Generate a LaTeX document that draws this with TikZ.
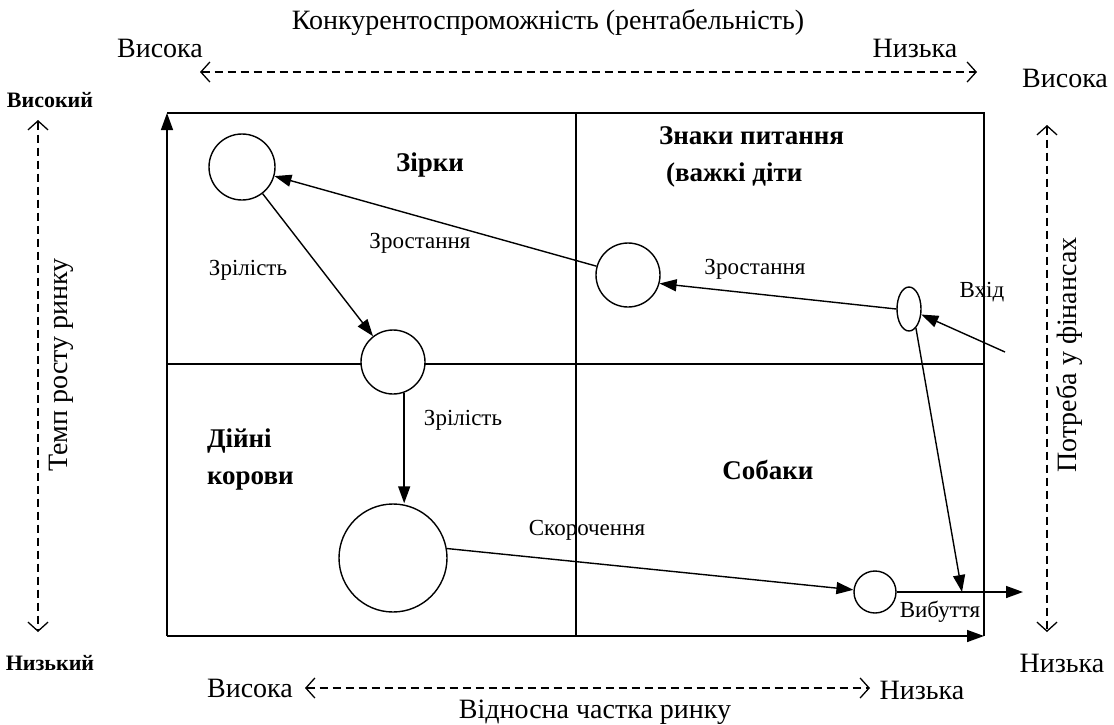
\documentclass[tikz,border=0pt]{standalone}
\usepackage{fontspec}
\setmainfont{Liberation Serif}[BoldFont={Liberation Serif Bold}]
\usetikzlibrary{arrows.meta, shapes.geometric}

\begin{document}
\begin{tikzpicture}[x=1pt, y=-1pt, line width=1.4pt,
  >={Triangle[length=17pt, width=12pt]},
  ball/.style={circle, draw, fill=white, inner sep=0pt},
  lbl/.style={font=\fontsize{28}{30}\selectfont},
  side/.style={font=\fontsize{22}{26}\selectfont\bfseries},
  tag/.style={font=\fontsize{23}{26}\selectfont},
  quad/.style={font=\fontsize{27}{37}\selectfont\bfseries, align=left},
  guide/.style={line width=1.3pt, dash pattern=on 8pt off 5pt,
    {Straight Barb[length=9pt, width=20pt]}-{Straight Barb[length=9pt, width=20pt]}}]
  \useasboundingbox (0,0) rectangle (1114,724);

  \coordinate (TL) at (167,113);
  \coordinate (TR) at (984,113);
  \coordinate (BL) at (167,636);
  \coordinate (BR) at (984,636);
  \coordinate (MT) at (576,113);
  \coordinate (MB) at (576,636);
  \coordinate (ML) at (167,364);
  \coordinate (MR) at (984,364);

  \draw[->] (BL) -- (TL);
  \draw[->] (BL) -- (BR);
  \draw (TL) -- (TR) -- (BR);
  \draw (MT) -- (MB);
  \draw (ML) -- (MR);

  \node[ball, minimum size=66pt] (star) at (242,167) {};
  \node[ball, minimum size=64pt] (ques) at (628,275) {};
  \node[ball, minimum size=64pt] (mid) at (393,362) {};
  \node[ball, minimum size=108pt] (cow) at (393,558) {};
  \node[ball, minimum size=42pt] (dog) at (875,592) {};
  \node[ellipse, draw, fill=white, inner sep=0pt, minimum width=24pt, minimum height=44pt] (ell) at (909,309) {};
  \coordinate (entry) at (1005,352);
  \coordinate (exit) at (1023,592);
  \coordinate (merge) at (962,592);

  \draw[->] (ques) -- (star);
  \draw[->] (ell.west) -- (ques.-15);
  \draw[->] (star) -- (mid);
  \draw[->] (mid.-70) -- (mid.-70 |- cow.north);
  \draw[->] (cow.10) -- (dog);
  \draw[->] (dog) -- (exit);
  \draw[->] (ell.-70) -- (merge);
  \draw[->] (entry) -- (ell);

  \node[quad] (stars) at (430,165) {Зірки};
  \node[quad, anchor=west] (qmarks) at (655,157) {Знаки питання\\\hspace*{7pt}(важкі діти};
  \node[quad, anchor=west] (cows) at (203,459) {Дійні\\корови};
  \node[quad] (dogs) at (768,470) {Собаки};

  \node[tag] (grow1) at (420,243) {Зростання};
  \node[tag] (grow2) at (755,269) {Зростання};
  \node[tag] (mat1) at (248,270) {Зрілість};
  \node[tag] (mat2) at (463,420) {Зрілість};
  \node[tag] (cut) at (587,530) {Скорочення};
  \node[tag] (entrytxt) at (982,292) {Вхід};
  \node[tag] (exittxt) at (940,612) {Вибуття};

  \node[lbl] (comp) at (548,22) {Конкурентоспроможність (рентабельність)};
  \node[lbl] (thigh) at (160,48) {Висока};
  \node[lbl] (tlow) at (915,48) {Низька};
  \coordinate (GT1) at (200,72);
  \coordinate (GT2) at (977,72);
  \draw[guide] (GT1) -- (GT2);

  \node[lbl] (rhigh) at (1065,78) {Висока};
  \node[lbl] (rlow) at (1062,663) {Низька};
  \node[lbl, rotate=90] (need) at (1069,355) {Потреба у фінансах};
  \coordinate (GR1) at (1047,125);
  \coordinate (GR2) at (1047,632);
  \draw[guide] (GR1) -- (GR2);

  \node[side] (lhigh) at (50,100) {Високий};
  \node[side] (llow) at (50,663) {Низький};
  \node[lbl, rotate=90] (rate) at (61,365) {Темп росту ринку};
  \coordinate (GL1) at (38,120);
  \coordinate (GL2) at (38,632);
  \draw[guide] (GL1) -- (GL2);

  \node[lbl] (bhigh) at (250,688) {Висока};
  \node[lbl] (blow) at (922,690) {Низька};
  \node[lbl] (share) at (595,712) {Відносна частка ринку};
  \coordinate (GB1) at (305,688);
  \coordinate (GB2) at (870,688);
  \draw[guide] (GB1) -- (GB2);
\end{tikzpicture}
\end{document}
